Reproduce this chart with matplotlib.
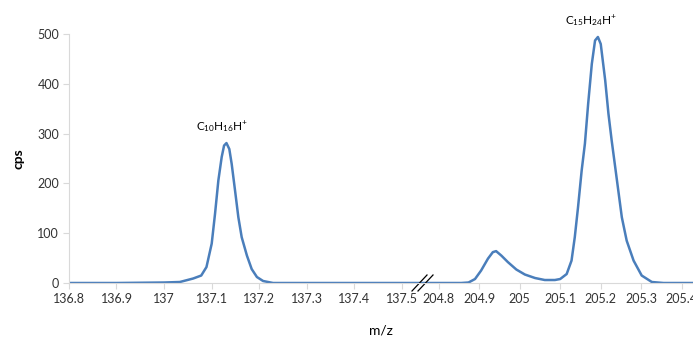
import numpy as np
import matplotlib.pyplot as plt
from matplotlib.ticker import FixedLocator, FixedFormatter

plt.rcParams['font.family'] = ['Lato', 'DejaVu Sans']
plt.rcParams['mathtext.fontset'] = 'custom'
plt.rcParams['mathtext.rm'] = 'Lato'
plt.rcParams['mathtext.it'] = 'Lato:italic'

# spectrum: low-mass window around m/z 137
mz_low = [136.80, 136.90, 137.00, 137.033, 137.061, 137.078, 137.089, 137.100,
          137.107, 137.114, 137.121, 137.126, 137.131, 137.137, 137.142,
          137.149, 137.156, 137.163, 137.174, 137.184, 137.195, 137.208,
          137.229, 137.30, 137.40, 137.50]
cps_low = [0, 0, 1, 2, 9, 15, 32, 79,
           139, 206, 253, 276, 281, 269, 239,
           186, 132, 92, 55, 28, 12, 4,
           0, 0, 0, 0]

# high-mass window around m/z 205
mz_high = [204.80, 204.856, 204.874, 204.890, 204.905, 204.922, 204.934, 204.942,
           204.955, 204.971, 204.992, 205.013, 205.038, 205.062, 205.087,
           205.100, 205.116, 205.128, 205.136, 205.144, 205.153, 205.161,
           205.169, 205.178, 205.186, 205.193, 205.200, 205.211, 205.219,
           205.227, 205.240, 205.252, 205.264, 205.281, 205.301, 205.326,
           205.355, 205.396, 205.43]
cps_high = [0, 0, 1, 8, 25, 49, 62, 64,
            55, 42, 27, 17, 10, 6, 6,
            8, 18, 45, 92, 152, 226, 280,
            360, 440, 487, 494, 480, 407, 340,
            286, 206, 132, 85, 45, 15, 2,
            0, 0, 0]

low_ticks = [136.8, 136.9, 137.0, 137.1, 137.2, 137.3, 137.4, 137.5]
high_ticks = [204.8, 204.9, 205.0, 205.1, 205.2, 205.3, 205.4]
tick_labels = ['136.8', '136.9', '137', '137.1', '137.2', '137.3', '137.4', '137.5',
               '204.8', '204.9', '205', '205.1', '205.2', '205.3', '205.4']
y_ticks = [0, 100, 200, 300, 400, 500]

labels = [(137.131, 281, r'$\mathregular{C_{10}H_{16}H^{+}}$', -3),
          (205.193, 494, r'$\mathregular{C_{15}H_{24}H^{+}}$', -5)]

# broken m/z axis: two linear pieces with different scales
low_start, low_end = 136.8, 137.5
high_start = 204.8
gap = 0.0765
high_scale = 0.852


def to_axis(mz):
    mz = np.asarray(mz, dtype=float)
    return np.where(mz < 170,
                    mz - low_start,
                    (low_end - low_start) + gap + (mz - high_start) * high_scale)


fig = plt.figure(figsize=(6.93, 3.38), dpi=100)
ax = fig.add_axes([68.9 / 693, 55 / 338, (693 - 68.9) / 693, 249 / 338])

blue = '#4A7EBB'
mz_all = mz_low + mz_high
cps_all = cps_low + cps_high
ax.plot(to_axis(mz_all), cps_all, color=blue, lw=1.8, solid_joinstyle='round')

for mz, cps, text, dx in labels:
    ax.annotate(text, (to_axis(mz), cps), xytext=(dx, 12), textcoords='offset points',
                ha='center', va='center', fontsize=8.5, color='#000000')

ax.set_xlim(0, (693 - 68.9) / 476)
ax.set_ylim(0, 500)

ax.xaxis.set_major_locator(FixedLocator(to_axis(low_ticks + high_ticks)))
ax.xaxis.set_major_formatter(FixedFormatter(tick_labels))
ax.set_yticks(y_ticks)

for s in ['top', 'right']:
    ax.spines[s].set_visible(False)
for s in ['left', 'bottom']:
    ax.spines[s].set_color('#D9D9D9')
    ax.spines[s].set_linewidth(0.8)

ax.tick_params(axis='both', colors='#D9D9D9', labelcolor='#333333',
               labelsize=9, length=4, width=0.8)
ax.tick_params(axis='x', pad=3)
ax.tick_params(axis='y', pad=3)

ax.set_xlabel('m/z', fontsize=10, color='#000000', va='center')
ax.xaxis.set_label_coords(0.5, -0.19)
ax.set_ylabel('cps', fontsize=10, fontweight='bold', color='#000000', va='center')
ax.yaxis.set_label_coords(-0.0815, 0.5)

# break marks on the axis
for x0 in [412, 418]:
    ax.plot([x0 / 693, (x0 + 15) / 693], [(338 - 291) / 338, (338 - 275) / 338],
            color='black', lw=0.9, transform=fig.transFigure, clip_on=False)

fig.savefig('out.png', dpi=100)
